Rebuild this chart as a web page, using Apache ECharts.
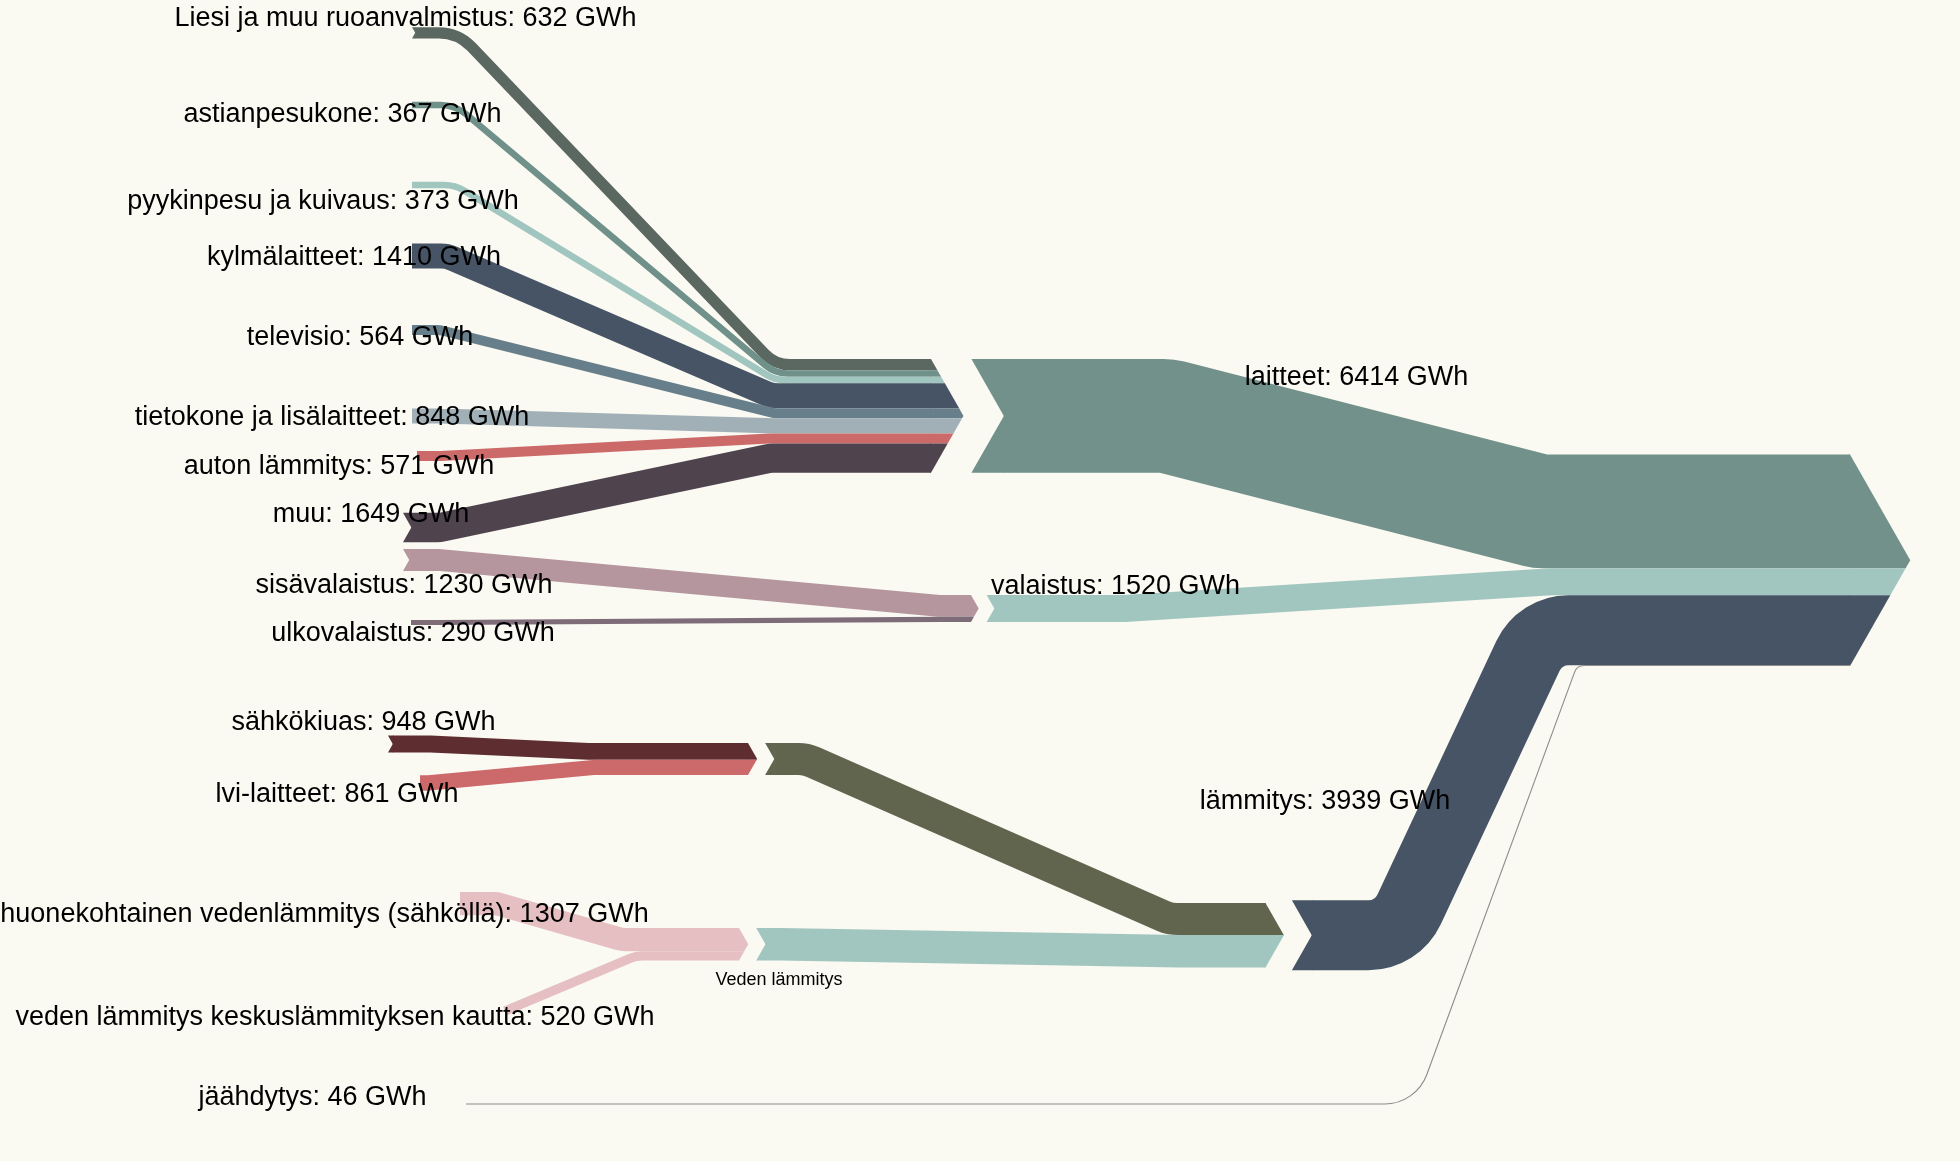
<!DOCTYPE html>
<html>
<head>
<meta charset="utf-8">
<script src="https://cdn.jsdelivr.net/npm/echarts/dist/echarts.min.js"></script>
<style>
html,body{margin:0;padding:0;background:#faf9f2;}
#chart{width:1960px;height:1161px;}
</style>
</head>
<body>
<div id="chart"></div>
<script>
// ================= DATA =================
const itemNames = [
  'Liesi ja muu ruoanvalmistus', 'astianpesukone', 'pyykinpesu ja kuivaus', 'kylmälaitteet',
  'televisio', 'tietokone ja lisälaitteet', 'auton lämmitys', 'muu',
  'sisävalaistus', 'ulkovalaistus',
  'sähkökiuas', 'lvi-laitteet',
  'huonekohtainen vedenlämmitys (sähköllä)', 'veden lämmitys keskuslämmityksen kautta'
];
const itemValues = [632, 367, 373, 1410, 564, 848, 571, 1649, 1230, 290, 948, 861, 1307, 520];
const itemTargets = [
  'laitteet', 'laitteet', 'laitteet', 'laitteet', 'laitteet', 'laitteet', 'laitteet', 'laitteet',
  'valaistus', 'valaistus',
  'kiuas ja lvi', 'kiuas ja lvi',
  'Veden lämmitys', 'Veden lämmitys'
];
// intermediate nodes (value = sum of their inputs)
const subgroupNames = ['kiuas ja lvi', 'Veden lämmitys'];
const subgroupTargets = ['lämmitys', 'lämmitys'];
// main groups
const groupNames = ['laitteet', 'valaistus', 'lämmitys'];
const groupValues = [6414, 1520, 3939];
// item going directly to the total
const directNames = ['jäähdytys'];
const directValues = [46];
const totalName = 'yhteensä';
const unit = 'GWh';

// ================= LAYOUT / STYLE =================
const K = 0.01774;      // layout px per GWh (band thickness scale)
const TIP = 0.285;      // arrow depth relative to thickness
const GAP = 8;          // gap between arrow tip and next node
const FONT = '"Liberation Sans", Arial, Helvetica, sans-serif';
const FONT_SIZE = 27;
const BG = '#faf9f2';

const stackLayout = {
  'laitteet':       {top: 359,   endX: 931},
  'valaistus':      {top: 595,   endX: 971},
  'kiuas ja lvi':   {top: 743,   endX: 748},
  'Veden lämmitys': {top: 928,   endX: 739},
  'lämmitys':       {top: 903,   endX: 1265.5},
  'yhteensä':       {top: 454.5, endX: 1850}
};
const routeLayout = {
  'Liesi ja muu ruoanvalmistus': {x0: 412, y0: 32.8, bends: [458, 775], r: [45, 35], notch: true},
  'astianpesukone':              {x0: 412, y0: 105, bends: [455, 775], r: [40, 35]},
  'pyykinpesu ja kuivaus':       {x0: 412, y0: 185, bends: [455, 775], r: [40, 35]},
  'kylmälaitteet':               {x0: 412, y0: 256, bends: [447, 772], r: [30, 30]},
  'televisio':                   {x0: 412, y0: 330, bends: [440, 775], r: [25, 25]},
  'tietokone ja lisälaitteet':   {x0: 412, y0: 416, bends: [440, 775], r: [20, 20]},
  'auton lämmitys':              {x0: 417, y0: 456, bends: [440, 770], r: [20, 20]},
  'muu':                         {x0: 403, y0: 527.5, bends: [440, 770], r: [25, 25], notch: true},
  'sisävalaistus':               {x0: 403, y0: 560, bends: [440, 940], r: [20, 20], notch: true},
  'ulkovalaistus':               {x0: 411, y0: 622.5, bends: [440, 940], r: [20, 20]},
  'sähkökiuas':                  {x0: 388, y0: 744, bends: [430, 589], r: [20, 20], notch: true},
  'lvi-laitteet':                {x0: 420, y0: 783, bends: [428, 594], r: [15, 15]},
  'huonekohtainen vedenlämmitys (sähköllä)': {x0: 460, y0: 903.6, bends: [497, 622], r: [25, 25]},
  'veden lämmitys keskuslämmityksen kautta': {x0: 505, y0: 1011, bends: [null, 636], r: [30, 30]},
  'kiuas ja lvi':                {bends: [806, 1170], r: [35, 35]},
  'Veden lämmitys':              {bends: [780, 1180], r: [60, 60]},
  'laitteet':                    {bends: [1167, 1540], r: [25, 25]},
  'valaistus':                   {bends: [1125, 1550], r: [100, 100]},
  'lämmitys':                    {bends: [1397, 1540], r: [45, 45]},
  'jäähdytys':                   {x0: 466, y0: 1104, bends: [1416, 1577], r: [45, 10]}
};
const colors = {
  'Liesi ja muu ruoanvalmistus': '#5b6861',
  'astianpesukone': '#6f918a',
  'pyykinpesu ja kuivaus': '#a0c6bf',
  'kylmälaitteet': '#465466',
  'televisio': '#677f8a',
  'tietokone ja lisälaitteet': '#a1b0b7',
  'auton lämmitys': '#cc6a6a',
  'muu': '#4f434e',
  'sisävalaistus': '#b5959e',
  'ulkovalaistus': '#7e6d79',
  'sähkökiuas': '#5e2d30',
  'lvi-laitteet': '#cc696b',
  'huonekohtainen vedenlämmitys (sähköllä)': '#e5bfc1',
  'veden lämmitys keskuslämmityksen kautta': '#e5bfc1',
  'kiuas ja lvi': '#62654e',
  'Veden lämmitys': '#a1c6bf',
  'laitteet': '#71918a',
  'valaistus': '#a1c6bf',
  'lämmitys': '#465466',
  'jäähdytys': '#8c8c8c'
};
// label anchor: centre x and baseline y, optional font size
const labelLayout = {
  'Liesi ja muu ruoanvalmistus': [405.5, 27],
  'astianpesukone': [342.5, 122.5],
  'pyykinpesu ja kuivaus': [323, 210],
  'kylmälaitteet': [354, 266],
  'televisio': [360, 346],
  'tietokone ja lisälaitteet': [332, 426],
  'auton lämmitys': [339, 475],
  'muu': [371, 522.5],
  'sisävalaistus': [404, 594],
  'ulkovalaistus': [413, 642],
  'sähkökiuas': [363.5, 731],
  'lvi-laitteet': [337, 802.5],
  'huonekohtainen vedenlämmitys (sähköllä)': [324.5, 923],
  'veden lämmitys keskuslämmityksen kautta': [335, 1026],
  'jäähdytys': [312.5, 1106],
  'laitteet': [1356.5, 386],
  'valaistus': [1115.5, 595],
  'lämmitys': [1325, 810],
  'Veden lämmitys': [779, 985, 18]
};

// ================= MODEL =================
const bands = [];
itemNames.forEach((n, i) => bands.push({name: n, value: itemValues[i], target: itemTargets[i], label: true}));
subgroupNames.forEach((n, i) => {
  let v = 0;
  itemNames.forEach((m, j) => { if (itemTargets[j] === n) v += itemValues[j]; });
  bands.push({name: n, value: v, target: subgroupTargets[i], label: n === 'Veden lämmitys', nameOnly: true});
});
groupNames.forEach((n, i) => bands.push({name: n, value: groupValues[i], target: totalName, label: true}));
directNames.forEach((n, i) => bands.push({name: n, value: directValues[i], target: totalName, label: true}));

// stacks at each target
const stacks = {};
Object.keys(stackLayout).forEach(k => { stacks[k] = Object.assign({H: 0, members: []}, stackLayout[k]); });
bands.forEach(b => {
  b.w = b.value * K;
  const s = stacks[b.target];
  b.endTop = s.top + s.H;
  b.endC = b.endTop + b.w / 2;
  s.H += b.w;
  s.members.push(b);
});
Object.values(stacks).forEach(s => { s.mid = s.top + s.H / 2; s.D = TIP * s.H; });

bands.forEach(b => {
  const rl = routeLayout[b.name];
  let x0, y0, notch;
  if (stacks[b.name]) { // node band starting after its input arrow
    const s = stacks[b.name];
    x0 = s.endX + s.D + GAP; y0 = s.mid; notch = true;
  } else { x0 = rl.x0; y0 = rl.y0; notch = !!rl.notch; }
  b.x0 = x0; b.y0 = y0; b.notch = notch;
  const s = stacks[b.target];
  const sx = notch ? x0 + TIP * b.w : x0;
  const pts = [[sx, y0]];
  const radii = [];
  if (rl.bends[0] != null) { pts.push([rl.bends[0], y0]); radii.push(rl.r[0]); }
  pts.push([rl.bends[1], b.endC]); radii.push(rl.r[1]);
  pts.push([s.endX, b.endC]);
  b.pts = pts; b.radii = radii;
  // arrow piece at the end (part of the target stack chevron)
  const a = b.endTop, c = b.endTop + b.w, E = s.endX, M = s.mid, half = s.H / 2;
  const ex = y => E + s.D * (1 - Math.abs(y - M) / half);
  const poly = [[E - 0.6, a], [ex(a), a]];
  if (a < M && M < c) poly.push([E + s.D, M]);
  poly.push([ex(c), c], [E - 0.6, c]);
  b.arrow = poly;
  if (notch) {
    const dn = TIP * b.w, t = y0 - b.w / 2, bt = y0 + b.w / 2;
    b.notchPoly = [[x0, t], [x0 + dn + 0.6, t], [x0 + dn + 0.6, bt], [x0, bt], [x0 + dn, y0]];
  }
});

function f(n) { return n.toFixed(2); }
function roundedPath(pts, radii) {
  let d = 'M' + f(pts[0][0]) + ',' + f(pts[0][1]);
  for (let i = 1; i < pts.length - 1; i++) {
    const R = radii[i - 1];
    const p0 = pts[i - 1], p = pts[i], p1 = pts[i + 1];
    const v1 = [p[0] - p0[0], p[1] - p0[1]], v2 = [p1[0] - p[0], p1[1] - p[1]];
    const l1 = Math.hypot(v1[0], v1[1]), l2 = Math.hypot(v2[0], v2[1]);
    if (l1 < 1e-6 || l2 < 1e-6) { d += ' L' + f(p[0]) + ',' + f(p[1]); continue; }
    const u1 = [v1[0] / l1, v1[1] / l1], u2 = [v2[0] / l2, v2[1] / l2];
    const cs = Math.max(-1, Math.min(1, u1[0] * u2[0] + u1[1] * u2[1]));
    const th = Math.acos(cs);
    if (th < 1e-4) { d += ' L' + f(p[0]) + ',' + f(p[1]); continue; }
    let t = R * Math.tan(th / 2);
    const m1 = (i === 1) ? l1 * 0.95 : l1 / 2;
    const m2 = (i === pts.length - 2) ? l2 * 0.95 : l2 / 2;
    t = Math.min(t, m1, m2);
    const r = t / Math.tan(th / 2);
    const k = 4 / 3 * Math.tan(th / 4) * r;
    const A = [p[0] - u1[0] * t, p[1] - u1[1] * t], B = [p[0] + u2[0] * t, p[1] + u2[1] * t];
    const C1 = [A[0] + u1[0] * k, A[1] + u1[1] * k], C2 = [B[0] - u2[0] * k, B[1] - u2[1] * k];
    d += ' L' + f(A[0]) + ',' + f(A[1]) + ' C' + f(C1[0]) + ',' + f(C1[1]) + ' ' + f(C2[0]) + ',' + f(C2[1]) + ' ' + f(B[0]) + ',' + f(B[1]);
  }
  const last = pts[pts.length - 1];
  d += ' L' + f(last[0]) + ',' + f(last[1]);
  return d;
}

const labels = bands.filter(b => b.label).map(b => ({
  text: b.nameOnly ? b.name : b.name + ': ' + b.value + ' ' + unit,
  pos: labelLayout[b.name]
}));

// ================= CHART =================
const chart = echarts.init(document.getElementById('chart'), null, {renderer: 'canvas'});
chart.setOption({
  backgroundColor: BG,
  animation: false,
  grid: {left: 0, right: 0, top: 0, bottom: 0},
  xAxis: {type: 'value', min: 0, max: 1960, show: false},
  yAxis: {type: 'value', min: 0, max: 1161, inverse: true, show: false},
  series: [
    {
      type: 'custom',
      coordinateSystem: 'cartesian2d',
      clip: false,
      silent: true,
      data: bands.map((b, i) => [i, b.value]),
      renderItem: function (params, api) {
        const b = bands[params.dataIndex];
        const P = p => api.coord(p);
        const lw = Math.max(api.size([0, b.w])[1], b.w < 2 ? 1.1 : 0);
        const children = [{
          type: 'path',
          shape: {pathData: roundedPath(b.pts.map(P), b.radii)},
          style: {fill: 'none', stroke: colors[b.name], lineWidth: lw, lineCap: 'butt', lineJoin: 'round'}
        }];
        if (b.w >= 2) {
          children.push({type: 'polygon', shape: {points: b.arrow.map(P)}, style: {fill: colors[b.name]}});
        } else {
          children.push({type: 'polyline', shape: {points: [P(b.arrow[0]), P(b.arrow[1])]}, style: {stroke: colors[b.name], lineWidth: lw, fill: 'none'}});
        }
        if (b.notchPoly) {
          children.push({type: 'polygon', shape: {points: b.notchPoly.map(P)}, style: {fill: colors[b.name]}});
        }
        return {type: 'group', children: children};
      }
    },
    {
      type: 'custom',
      coordinateSystem: 'cartesian2d',
      clip: false,
      silent: true,
      z: 10,
      data: labels.map((l, i) => [i, 0]),
      renderItem: function (params, api) {
        const l = labels[params.dataIndex];
        const size = l.pos[2] || FONT_SIZE;
        const pt = api.coord([l.pos[0], l.pos[1] - size * 0.3]);
        return {
          type: 'text',
          x: pt[0], y: pt[1],
          style: {
            text: l.text, fill: '#000',
            font: size + 'px ' + FONT,
            align: 'center', verticalAlign: 'middle',
            textAlign: 'center', textVerticalAlign: 'middle'
          }
        };
      }
    }
  ]
});
</script>
</body>
</html>
